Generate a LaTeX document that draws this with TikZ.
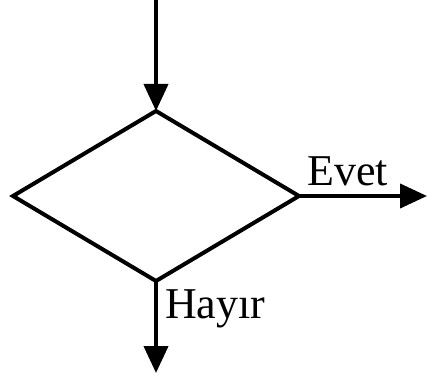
\documentclass[tikz,border=0pt]{standalone}
\usepackage{fontspec}
\setmainfont{Liberation Serif}
\usetikzlibrary{shapes.geometric,arrows.meta}
\begin{document}
\begin{tikzpicture}[x=1pt,y=-1pt,
  flowline/.style={line width=4pt,-{Triangle[length=27pt,width=24pt]}},
  decision/.style={diamond,draw,line width=4pt,inner sep=0pt,outer sep=0pt,
    minimum width=286pt,minimum height=170pt},
  lbl/.style={font=\fontsize{44}{50}\selectfont,inner sep=0pt,anchor=base west}]
\useasboundingbox (0,0) rectangle (428,377);
\node[decision] (d) at (156,196) {};
\coordinate (in) at (156,0);
\coordinate (yes) at (427,196);
\coordinate (no) at (156,373);
\draw[flowline] (in) -- (d.north);
\draw[flowline] (d.east) -- (yes);
\draw[flowline] (d.south) -- (no);
\node[lbl] (evet) at (307,185) {Evet};
\node[lbl] (hayir) at (165,318) {Hayır};
\end{tikzpicture}
\end{document}
